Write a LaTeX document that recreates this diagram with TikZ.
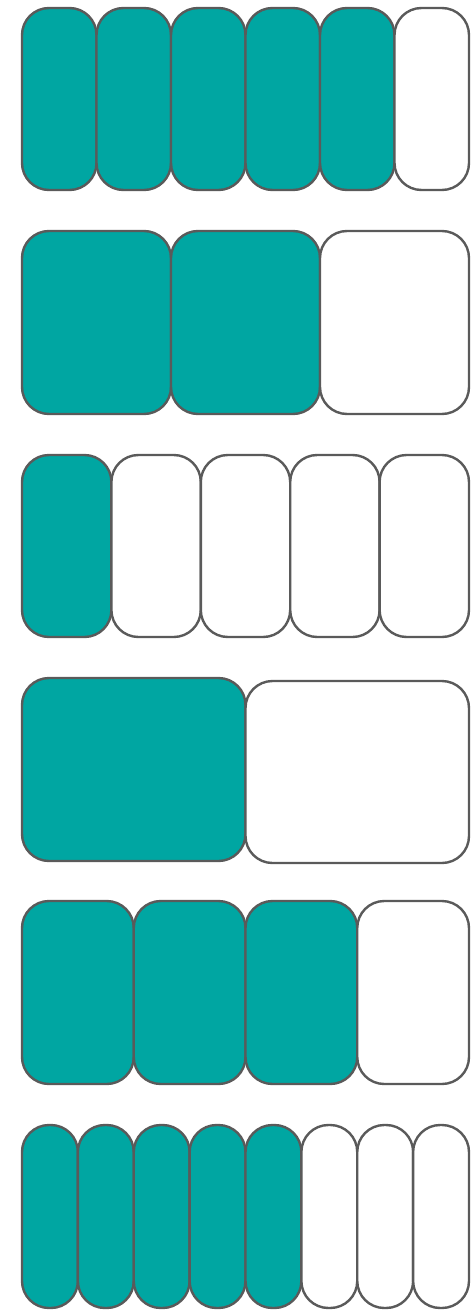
\documentclass[tikz,border=0pt]{standalone}
\usetikzlibrary{calc}
\definecolor{teal}{RGB}{0,166,162}
\definecolor{edge}{RGB}{90,90,90}
\tikzset{
  cell/.style={draw=edge, line width=2.4pt, rounded corners=27pt},
  full/.style={cell, fill=teal},
  empty/.style={cell, fill=white},
}
% #1 = number of cells, #2 = filled count, #3 = top y, #4 = bottom y
\newcommand{\cellrow}[4]{%
  \pgfmathsetmacro{\cw}{447/#1}%
  \foreach \i in {1,...,#1}{%
    \pgfmathsetmacro{\xa}{22+(\i-1)*\cw}%
    \pgfmathsetmacro{\xb}{22+\i*\cw}%
    \ifnum\i>#2\relax
      \draw[empty] (\xa,#3) rectangle (\xb,#4);
    \else
      \draw[full] (\xa,#3) rectangle (\xb,#4);
    \fi
  }%
}
\begin{document}
\begin{tikzpicture}[x=1pt,y=-1pt]
\useasboundingbox (0,0) rectangle (476,1311);
\cellrow{6}{5}{8}{190}
\cellrow{3}{2}{231}{414}
\cellrow{5}{1}{455}{637}
\draw[full] (22,678) rectangle (245.5,861);
\draw[empty] (245.5,681) rectangle (469,863);
\cellrow{4}{3}{901}{1084}
\cellrow{8}{5}{1125}{1308}
\end{tikzpicture}
\end{document}
